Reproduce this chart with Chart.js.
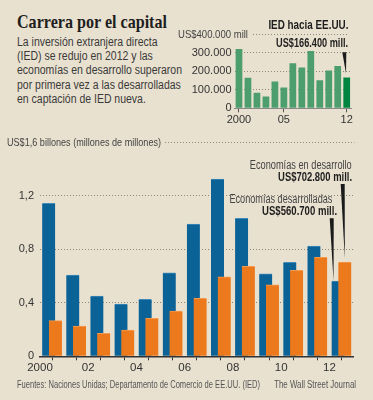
<!DOCTYPE html>
<html>
<head>
<meta charset="utf-8">
<script src="https://cdn.jsdelivr.net/npm/chart.js@4.4.0/dist/chart.umd.min.js"></script>
<style>
html, body { margin: 0; padding: 0; }
body {
    width: 373px; height: 400px; position: relative; overflow: hidden;
    background: #e9e1d0; color: #333;
    font-family: "Liberation Sans", Arial, sans-serif;
}
.t { position: absolute; white-space: nowrap; line-height: 14px; transform-origin: left center; }
.r { transform-origin: right center; }
.b { font-weight: bold; color: #1e1e1e; }
#title { left: 17px; top: 12px; font: bold 19px "Liberation Serif", "DejaVu Serif", serif; line-height: 19px; color: #1e1e1e; }
#desc { left: 17px; top: 35px; font-size: 12.5px; line-height: 14.2px; color: #3a3a3a; transform-origin: left top; }
#inset { position: absolute; left: 170px; top: 20px; }
#main { position: absolute; left: 0; top: 125px; }
.foot { font-size: 10px; color: #555; top: 378px; }
</style>
</head>
<body>
<div id="title" class="t" data-w="150">Carrera por el capital</div>
<div id="desc" class="t" data-w="165">La inversión extranjera directa<br>(IED) se redujo en 2012 y las<br>economías en desarrollo superaron<br>por primera vez a las desarrolladas<br>en captación de IED nueva.</div>

<canvas id="inset" width="203" height="110"></canvas>
<canvas id="main" width="373" height="250"></canvas>

<div class="t b r" data-w="80" style="right:25px; top:18px; font-size:12px;">IED hacia EE.UU.</div>
<div class="t" data-w="70" style="left:178px; top:27px; font-size:11.5px; color:#444;">US$400.000 mill</div>
<div class="t b r" data-w="72" style="right:25px; top:36px; font-size:12px;">US$166.400 mill.</div>

<div class="t" data-w="154" style="left:7px; top:135px; font-size:11.5px; color:#444;">US$1,6 billones (millones de millones)</div>
<div class="t r" data-w="102" style="right:21px; top:158px; font-size:12px; color:#444;">Economías en desarrollo</div>
<div class="t b r" data-w="74" style="right:21px; top:170px; font-size:12px;">US$702.800 mill.</div>
<div class="t r" data-w="103" style="right:41px; top:192px; font-size:12px; color:#444;">Economías desarrolladas</div>
<div class="t b r" data-w="75" style="right:36px; top:204px; font-size:12px;">US$560.700 mill.</div>

<div class="t foot" data-w="243" style="left:17px;">Fuentes: Naciones Unidas; Departamento de Comercio de EE.UU. (IED)</div>
<div class="t foot r" data-w="82" style="right:17px;">The Wall Street Journal</div>

<script>
// years and labels
const years = [2000, 2001, 2002, 2003, 2004, 2005, 2006, 2007, 2008, 2009, 2010, 2011, 2012];
const yearLabels = ['2000', '', '02', '', '04', '', '06', '', '08', '', '10', '', '12'];
const insetLabels = ['2000', '', '', '', '', '05', '', '', '', '', '', '', '12'];

// FDI inflows, trillions of US$
const developed = [1.142, 0.607, 0.45, 0.39, 0.425, 0.624, 0.987, 1.323, 1.03, 0.616, 0.701, 0.823, 0.561];
const developing = [0.266, 0.226, 0.172, 0.196, 0.283, 0.338, 0.433, 0.594, 0.671, 0.534, 0.642, 0.739, 0.703];
const mainTicks = [0, 0.4, 0.8, 1.2, 1.6];
const mainTickLabels = ['0', '0,4', '0,8', '1,2', ''];

// FDI into the US, millions of US$
const usFdi = [320000, 165000, 84000, 64000, 145000, 112000, 243000, 221000, 310000, 151000, 205000, 228000, 166400];
const insetTicks = [0, 100000, 200000, 300000, 400000];
const insetTickLabels = ['0', '100.000', '200.000', '300.000', ''];

const FONT = '"Liberation Sans", Arial, sans-serif';
const DOT = '#8d877b';

// squeeze the html labels to the narrow widths of the original type
document.querySelectorAll('[data-w]').forEach(el => {
    const w = el.getBoundingClientRect().width;
    el.style.transform = 'scaleX(' + (+el.dataset.w / w) + ')';
});

function wedge(ctx, bx, by, tx, ty) {
    ctx.save();
    ctx.fillStyle = '#1a1a1a';
    ctx.beginPath();
    ctx.moveTo(bx - 2, by);
    ctx.lineTo(bx + 2, by);
    ctx.lineTo(tx, ty);
    ctx.closePath();
    ctx.fill();
    ctx.restore();
}

function dottedLine(ctx, x1, x2, y) {
    y = Math.round(y) + 0.5;
    ctx.save();
    ctx.strokeStyle = DOT;
    ctx.lineWidth = 1;
    ctx.setLineDash([1, 2]);
    ctx.beginPath();
    ctx.moveTo(x1, y);
    ctx.lineTo(x2, y);
    ctx.stroke();
    ctx.restore();
}

// small chart: FDI into US
new Chart(document.getElementById('inset'), {
    type: 'bar',
    data: {
        labels: years.map(String),
        datasets: [{
            data: usFdi,
            backgroundColor: usFdi.map((v, i) => i === usFdi.length - 1 ? '#00843f' : '#4c9f6d'),
            barPercentage: 0.75,
            categoryPercentage: 1
        }]
    },
    options: {
        responsive: false,
        animation: false,
        layout: { padding: { top: 14.3, right: 21.8, left: 0, bottom: 0 } },
        plugins: { legend: { display: false }, tooltip: { enabled: false } },
        scales: {
            x: {
                grid: {
                    offset: false, drawOnChartArea: false, tickLength: 4,
                    tickColor: c => insetLabels[c.index] ? '#555' : 'rgba(0,0,0,0)'
                },
                border: { color: '#888', width: 1 },
                ticks: {
                    autoSkip: false, maxRotation: 0, padding: 1, color: '#333',
                    font: { family: FONT, size: 11 },
                    callback: (v, i) => insetLabels[i]
                },
                afterFit: s => { s.height = 21.7; }
            },
            y: {
                min: 0, max: 400000,
                afterBuildTicks: s => { s.ticks = insetTicks.map(v => ({ value: v })); },
                grid: {
                    drawTicks: false,
                    color: c => (c.tick && c.tick.value > 0 && c.tick.value < 400000) ? DOT : 'rgba(0,0,0,0)'
                },
                border: { display: false, dash: [1, 2] },
                ticks: {
                    padding: 3, color: '#333',
                    font: { family: FONT, size: 11 },
                    callback: (v, i) => insetTickLabels[i]
                },
                afterFit: s => { s.width = 64.5; }
            }
        }
    },
    plugins: [{
        id: 'insetNotes',
        afterDraw(chart) {
            const ctx = chart.ctx;
            const y = chart.scales.y.getPixelForValue(400000);
            dottedLine(ctx, 83, 179, y);
            const bar = chart.getDatasetMeta(0).data[usFdi.length - 1];
            wedge(ctx, 174.3, 32.3, bar.x - 0.7, bar.y - 4);
        }
    }]
});

// main chart: developed vs developing economies
new Chart(document.getElementById('main'), {
    type: 'bar',
    data: {
        datasets: [{
            label: 'Economías en desarrollo',
            data: years.map((yr, i) => ({ x: yr + 0.14, y: developing[i] })),
            backgroundColor: '#ec7a1c',
            borderColor: '#f39a4e',
            borderWidth: { top: 1, left: 0, right: 0, bottom: 0 },
            order: 0
        }, {
            label: 'Economías desarrolladas',
            data: years.map((yr, i) => ({ x: yr - 0.14, y: developed[i] })),
            backgroundColor: '#0b6297',
            borderColor: '#3f8ab8',
            borderWidth: { top: 1, left: 0, right: 0, bottom: 0 },
            order: 1
        }]
    },
    options: {
        responsive: false,
        animation: false,
        layout: { padding: { top: 17, right: 19.5, left: 0, bottom: 0 } },
        plugins: { legend: { display: false }, tooltip: { enabled: false } },
        datasets: { bar: { barThickness: 13, grouped: false } },
        scales: {
            x: {
                type: 'linear', min: 1999.5, max: 2012.5, offset: false,
                grid: { drawOnChartArea: false, tickLength: 4, tickColor: '#333' },
                border: { color: '#333', width: 1.5 },
                ticks: {
                    stepSize: 1, includeBounds: false, autoSkip: false, maxRotation: 0,
                    padding: 1, color: '#333',
                    font: { family: FONT, size: 11.5 },
                    callback: v => yearLabels[years.indexOf(Math.round(v))] ?? ''
                },
                afterFit: s => { s.height = 18.7; }
            },
            y: {
                min: 0, max: 1.6,
                afterBuildTicks: s => { s.ticks = mainTicks.map(v => ({ value: v })); },
                grid: {
                    drawTicks: false,
                    color: c => (c.tick && c.tick.value > 0 && c.tick.value < 1.6) ? DOT : 'rgba(0,0,0,0)'
                },
                border: { display: false, dash: [1, 2] },
                ticks: {
                    padding: 6, color: '#333',
                    font: { family: FONT, size: 11 },
                    callback: (v, i) => mainTickLabels[i]
                },
                afterFit: s => { s.width = 40; }
            }
        }
    },
    plugins: [{
        id: 'mainNotes',
        afterDraw(chart) {
            const ctx = chart.ctx;
            const y = chart.scales.y.getPixelForValue(1.6);
            dottedLine(ctx, 165, chart.chartArea.right + 1, y);
            const last = years.length - 1;
            const orange = chart.getDatasetMeta(0).data[last];
            const blue = chart.getDatasetMeta(1).data[last];
            wedge(ctx, 342.7, 59, orange.x, orange.y - 4);
            wedge(ctx, 331.7, 93.3, blue.x - 4.5, blue.y - 0.5);
        }
    }]
});
</script>
</body>
</html>
